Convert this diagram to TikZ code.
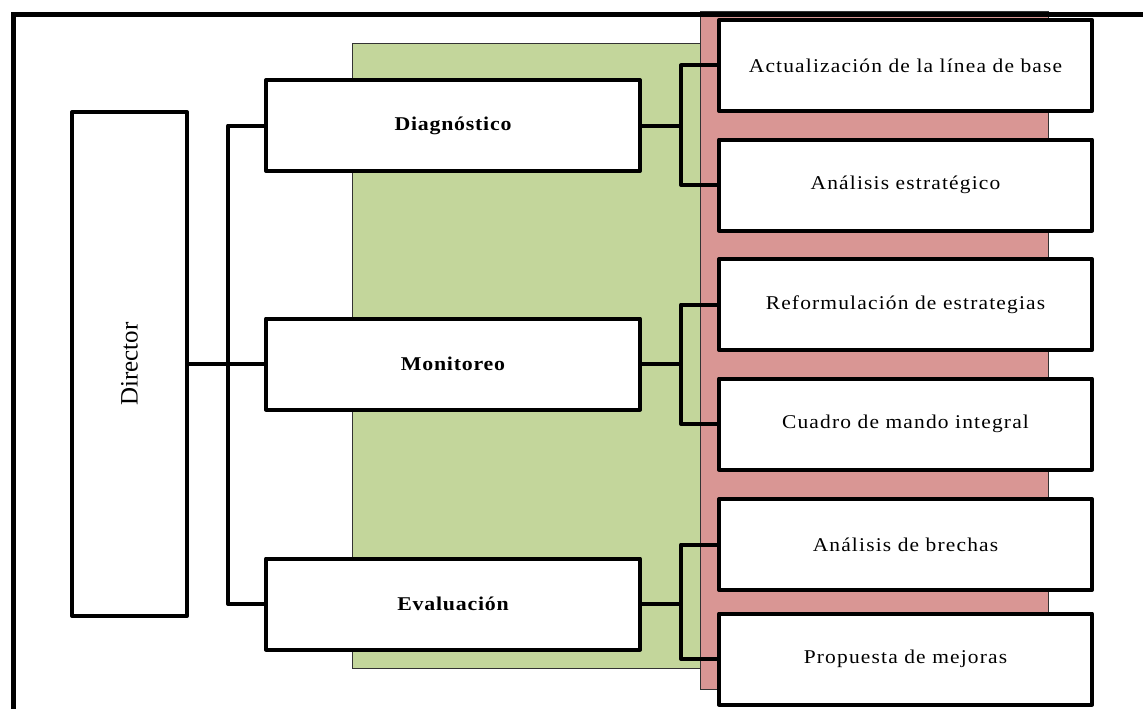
\documentclass[tikz,border=0pt]{standalone}
\usepackage{fontspec}
\setmainfont{Liberation Serif}
\newfontfamily\boxfont[FakeStretch=1.1,LetterSpace=6]{Liberation Serif}
\newfontfamily\boxfontb[FakeStretch=1.12,LetterSpace=4]{Liberation Serif Bold}
\definecolor{olivefill}{HTML}{C3D69B}
\definecolor{rosefill}{HTML}{D99694}
\pgfdeclarelayer{bg}
\pgfsetlayers{bg,main}
\begin{document}
\begin{tikzpicture}[x=1pt,y=-1pt,
  box/.style={draw=black,line width=4pt,fill=white,inner sep=0pt,outer sep=0pt,line join=round},
  midbox/.style={box,minimum width=374pt,minimum height=91pt,
    font=\fontsize{19.5}{22}\boxfontb},
  rightbox/.style={box,minimum width=373pt,minimum height=91pt,
    font=\fontsize{19.5}{22}\boxfont},
  conn/.style={draw=black,line width=4pt,line join=round},
  panel/.style={draw=black!80,line width=1pt},
  frameline/.style={draw=black,line width=5pt}
]
\useasboundingbox (0,0) rectangle (1143,709);
% coordinates for connector bends
\coordinate (bus) at (228,364);
\coordinate (bk) at (681,364);
% nodes
\node[box,minimum width=115pt,minimum height=504pt] (dir) at (129.5,364) {};
\node[rotate=90,font=\fontsize{25}{30}\selectfont] (dirtext) at (dir.center) {Director};
\node[midbox] (diag) at (453,125.5) {Diagnóstico};
\node[midbox] (mon) at (453,364) {Monitoreo};
\node[midbox] (eval) at (453,604) {Evaluación};
\node[rightbox] (r1) at (905.5,65.5) {Actualización de la línea de base};
\node[rightbox] (r2) at (905.5,185) {Análisis estratégico};
\node[rightbox] (r3) at (905.5,304.5) {Reformulación de estrategias};
\node[rightbox] (r4) at (905.5,424) {Cuadro de mando integral};
\node[rightbox] (r5) at (905.5,544.5) {Análisis de brechas};
\node[rightbox] (r6) at (905.5,659) {Propuesta de mejoras};
\begin{pgfonlayer}{bg}
  % background panels
  \path[panel,fill=olivefill] (352,44) rectangle (700,668);
  \path[panel,fill=rosefill] (700,12) rectangle (1048,689);
  % outer frame
  \draw[frameline] (1150,14.5) -- (13,14.5) -- (13,715);
  % connectors
  \path[conn] (dir.east) -- (mon.west);
  \path[conn] (diag.west) -| (bus) |- (eval.west);
  \path[conn] (diag.east) -- (diag.east -| bk);
  \path[conn] (r1.west) -| (bk |- diag.east) |- (r2.west);
  \path[conn] (mon.east) -- (bk);
  \path[conn] (r3.west) -| (bk) |- (r4.west);
  \path[conn] (eval.east) -- (eval.east -| bk);
  \path[conn] (r5.west) -| (bk |- eval.east) |- (r6.west);
\end{pgfonlayer}
\end{tikzpicture}
\end{document}
